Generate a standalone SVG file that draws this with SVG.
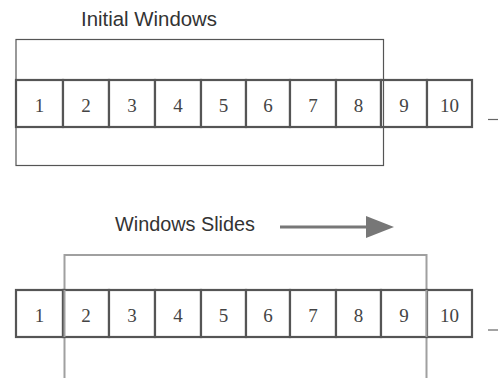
<svg xmlns="http://www.w3.org/2000/svg" width="498" height="378" viewBox="0 0 498 378">
  <style>
    .cell { fill: #ffffff; stroke: #555555; stroke-width: 2.2; }
    .num { font-family: "Liberation Serif", "DejaVu Serif", serif; font-size: 19px; fill: #444444; text-anchor: middle; }
    .title { font-family: "Liberation Sans", "DejaVu Sans", sans-serif; font-size: 20.5px; fill: #333333; }
    .win1 { fill: none; stroke: #555555; stroke-width: 1.2; }
    .win2 { fill: none; stroke: #a0a0a0; stroke-width: 2; }
    .tick { stroke: #666666; stroke-width: 1.2; }
  </style>
  <rect width="498" height="378" fill="#ffffff"/>

  <!-- initial window -->
  <g id="title-initial">
    <text class="title" x="81" y="25.5" textLength="136" lengthAdjust="spacingAndGlyphs">Initial Windows</text>
  </g>
  <g id="window-initial">
    <rect class="win1" x="16" y="39.5" width="367.5" height="126"/>
  </g>

  <!-- top row of cells -->
  <g id="row-top">
    <g id="top-1"><rect class="cell" x="16" y="80" width="47" height="47"/><text class="num" x="39.5" y="111.5">1</text></g>
    <g id="top-2"><rect class="cell" x="63" y="80" width="46" height="47"/><text class="num" x="86" y="111.5">2</text></g>
    <g id="top-3"><rect class="cell" x="109" y="80" width="46" height="47"/><text class="num" x="132" y="111.5">3</text></g>
    <g id="top-4"><rect class="cell" x="155" y="80" width="46" height="47"/><text class="num" x="178" y="111.5">4</text></g>
    <g id="top-5"><rect class="cell" x="201" y="80" width="45" height="47"/><text class="num" x="223.5" y="111.5">5</text></g>
    <g id="top-6"><rect class="cell" x="246" y="80" width="44" height="47"/><text class="num" x="268" y="111.5">6</text></g>
    <g id="top-7"><rect class="cell" x="290" y="80" width="46" height="47"/><text class="num" x="313" y="111.5">7</text></g>
    <g id="top-8"><rect class="cell" x="336" y="80" width="45" height="47"/><text class="num" x="358.5" y="111.5">8</text></g>
    <g id="top-9"><rect class="cell" x="381" y="80" width="46" height="47"/><text class="num" x="404" y="111.5">9</text></g>
    <g id="top-10"><rect class="cell" x="427" y="80" width="45" height="47"/><text class="num" x="449.5" y="111.5">10</text></g>
  </g>
  <!-- window edge over the row -->
  <line class="win1" x1="383.5" y1="80" x2="383.5" y2="127"/>

  <!-- sliding window -->
  <g id="title-slides">
    <text class="title" x="115" y="231" textLength="140" lengthAdjust="spacingAndGlyphs">Windows Slides</text>
  </g>
  <g id="window-slid">
    <path class="win2" d="M64.5 378 V255 H426.5 V378"/>
  </g>

  <!-- bottom row of cells -->
  <g id="row-bottom">
    <g id="bot-1"><rect class="cell" x="16" y="290" width="47" height="47"/><text class="num" x="39.5" y="321.5">1</text></g>
    <g id="bot-2"><rect class="cell" x="63" y="290" width="46" height="47"/><text class="num" x="86" y="321.5">2</text></g>
    <g id="bot-3"><rect class="cell" x="109" y="290" width="46" height="47"/><text class="num" x="132" y="321.5">3</text></g>
    <g id="bot-4"><rect class="cell" x="155" y="290" width="46" height="47"/><text class="num" x="178" y="321.5">4</text></g>
    <g id="bot-5"><rect class="cell" x="201" y="290" width="45" height="47"/><text class="num" x="223.5" y="321.5">5</text></g>
    <g id="bot-6"><rect class="cell" x="246" y="290" width="44" height="47"/><text class="num" x="268" y="321.5">6</text></g>
    <g id="bot-7"><rect class="cell" x="290" y="290" width="46" height="47"/><text class="num" x="313" y="321.5">7</text></g>
    <g id="bot-8"><rect class="cell" x="336" y="290" width="45" height="47"/><text class="num" x="358.5" y="321.5">8</text></g>
    <g id="bot-9"><rect class="cell" x="381" y="290" width="46" height="47"/><text class="num" x="404" y="321.5">9</text></g>
    <g id="bot-10"><rect class="cell" x="427" y="290" width="45" height="47"/><text class="num" x="449.5" y="321.5">10</text></g>
  </g>
  <line class="win2" x1="426.5" y1="290" x2="426.5" y2="337"/>
  <line class="win2" x1="64.5" y1="290" x2="64.5" y2="337"/>

  <!-- connectors -->
  <g id="connectors">
    <line x1="280" y1="227" x2="368" y2="227" stroke="#777777" stroke-width="3"/>
    <polygon points="366,216 394,227 366,238" fill="#777777"/>
    <line class="tick" x1="488" y1="119.5" x2="498" y2="119.5"/>
    <line class="tick" x1="488" y1="330" x2="498" y2="330"/>
  </g>
</svg>
